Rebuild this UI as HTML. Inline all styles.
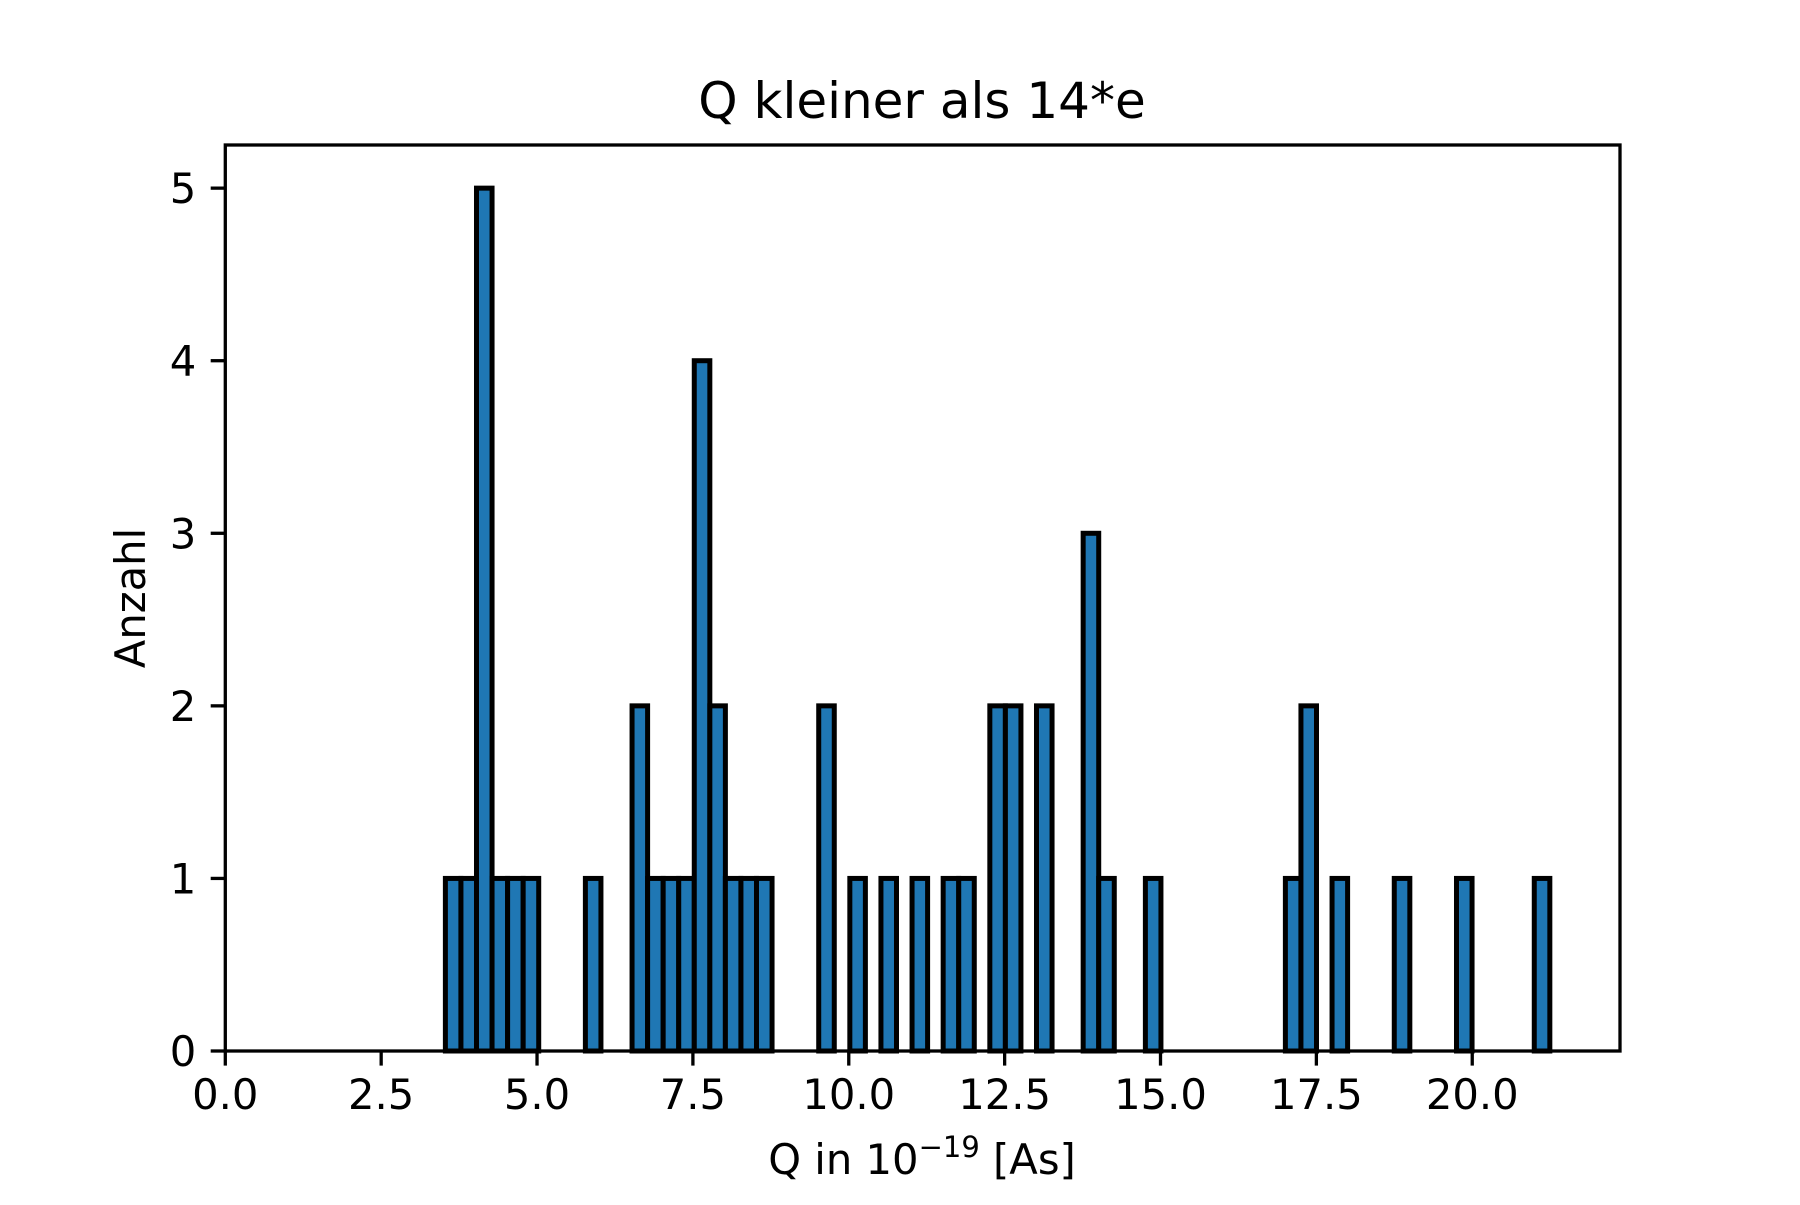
<!DOCTYPE html>
<html><head><meta charset="utf-8"><style>
html,body{margin:0;padding:0;background:#fff;}
svg text{font-family:"DejaVu Sans","Liberation Sans",sans-serif;fill:#000;}
</style></head><body>
<svg id="chart" width="1800" height="1200" viewBox="0 0 1800 1200" xmlns="http://www.w3.org/2000/svg">
<rect x="0" y="0" width="1800" height="1200" fill="#fff"/>
<g id="bars"></g>
<g id="axes"></g>
<text x="922" y="118" font-size="50" text-anchor="middle">Q kleiner als 14*e</text>
<text x="922" y="1174" font-size="41.7" text-anchor="middle">Q in 10<tspan dy="-17" font-size="29">−19</tspan><tspan dy="17"> [As]</tspan></text>
<text transform="translate(145,598) rotate(-90)" font-size="41.7" text-anchor="middle">Anzahl</text>
</svg>
<script>
const binStart = 3.53;
const binWidth = 0.2495;
const counts = [1,1,5,1,1,1,0,0,0,1,0,0,2,1,1,1,4,2,1,1,1,0,0,0,2,0,1,0,1,0,1,0,1,1,0,2,2,0,2,0,0,3,1,0,0,1,0,0,0,0,0,0,0,0,1,2,0,1,0,0,0,1,0,0,0,1,0,0,0,0,1,0,0,0];
const xTicks = [0,2.5,5,7.5,10,12.5,15,17.5,20];
const xTickLabels = ["0.0","2.5","5.0","7.5","10.0","12.5","15.0","17.5","20.0"];
const yTicks = [0,1,2,3,4,5];
const yTickLabels = ["0","1","2","3","4","5"];

const L=225.3,R=1620,T=145,B=1051;
const xMin=0,xMax=22.37,yMin=0,yMax=5.25;
const sx=v=>L+(v-xMin)/(xMax-xMin)*(R-L);
const sy=v=>B-(v-yMin)/(yMax-yMin)*(B-T);
const NS="http://www.w3.org/2000/svg";
const bars=document.getElementById('bars');
counts.forEach((c,i)=>{
  const x0=sx(binStart+i*binWidth), x1=sx(binStart+(i+1)*binWidth);
  const r=document.createElementNS(NS,'rect');
  r.setAttribute('x',x0);r.setAttribute('y',sy(c));
  r.setAttribute('width',x1-x0);r.setAttribute('height',sy(0)-sy(c));
  r.setAttribute('fill','#1f77b4');r.setAttribute('stroke','#000');r.setAttribute('stroke-width','5');
  
  
  bars.appendChild(r);
});
const axes=document.getElementById('axes');
const frame=document.createElementNS(NS,'rect');
frame.setAttribute('x',L);frame.setAttribute('y',T);frame.setAttribute('width',R-L);frame.setAttribute('height',B-T);
frame.setAttribute('fill','none');frame.setAttribute('stroke','#000');frame.setAttribute('stroke-width','3.3');


axes.appendChild(frame);
xTicks.forEach((t,i)=>{
  const x=sx(t);
  const l=document.createElementNS(NS,'line');
  l.setAttribute('x1',x);l.setAttribute('x2',x);l.setAttribute('y1',B);l.setAttribute('y2',B+14.6);
  l.setAttribute('stroke','#000');l.setAttribute('stroke-width','3.3');
  
  
  axes.appendChild(l);
  const tx=document.createElementNS(NS,'text');
  tx.setAttribute('x',x);tx.setAttribute('y',B+58);tx.setAttribute('font-size','41.7');tx.setAttribute('text-anchor','middle');
  tx.textContent=xTickLabels[i];
  
  
  axes.appendChild(tx);
});
yTicks.forEach((t,i)=>{
  const y=sy(t);
  const l=document.createElementNS(NS,'line');
  l.setAttribute('x1',L-14.6);l.setAttribute('x2',L);l.setAttribute('y1',y);l.setAttribute('y2',y);
  l.setAttribute('stroke','#000');l.setAttribute('stroke-width','3.3');
  
  
  axes.appendChild(l);
  const tx=document.createElementNS(NS,'text');
  tx.setAttribute('x',L-29);tx.setAttribute('y',y+15);tx.setAttribute('font-size','41.7');tx.setAttribute('text-anchor','end');
  tx.textContent=yTickLabels[i];
  
  
  axes.appendChild(tx);
});
</script>
</body></html>
